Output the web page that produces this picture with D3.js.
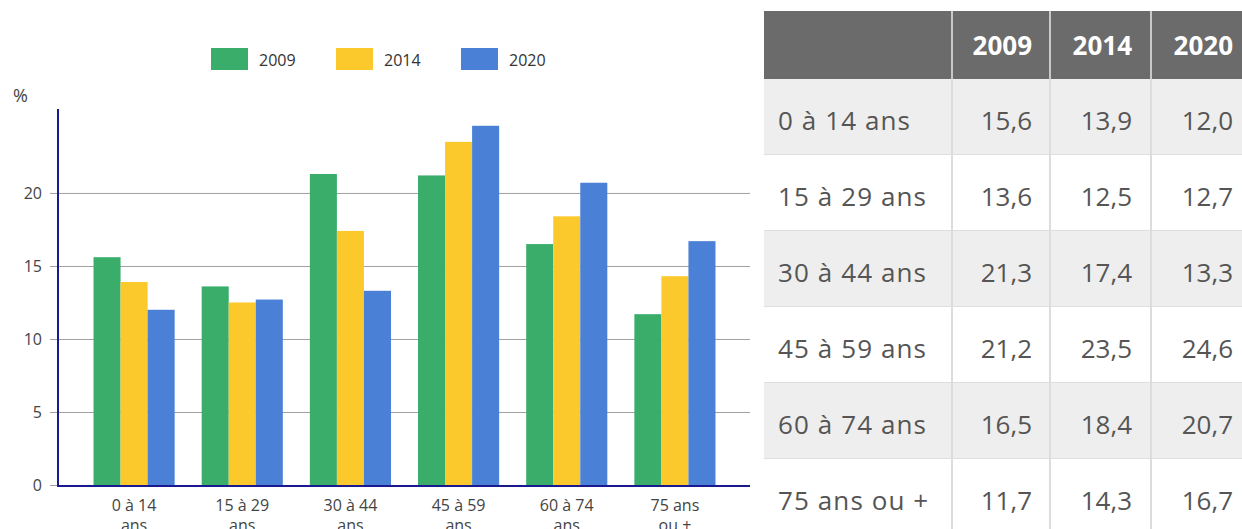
<!DOCTYPE html>
<html>
<head>
<meta charset="utf-8">
<script src="https://cdn.jsdelivr.net/npm/d3@7"></script>
<style>
html,body{margin:0;padding:0;background:#fff;}
svg{display:block;font-family:"Open Sans",sans-serif;}
</style>
</head>
<body>
<svg id="c" width="1242" height="529"></svg>
<script>
const categories = [["0 à 14","ans"],["15 à 29","ans"],["30 à 44","ans"],["45 à 59","ans"],["60 à 74","ans"],["75 ans","ou +"]];
const tableLabels = ["0 à 14 ans","15 à 29 ans","30 à 44 ans","45 à 59 ans","60 à 74 ans","75 ans ou +"];
const years = ["2009","2014","2020"];
const values2009 = [15.6,13.6,21.3,21.2,16.5,11.7];
const values2014 = [13.9,12.5,17.4,23.5,18.4,14.3];
const values2020 = [12.0,12.7,13.3,24.6,20.7,16.7];
const yTicks = [0,5,10,15,20];
const colors = ["#3aad6b","#fcc92c","#4a80d5"];

const series = [values2009, values2014, values2020];
const svg = d3.select("#c");

// ---- chart ----
const x = d3.scaleBand().domain(d3.range(categories.length)).range([80,729]).paddingInner(0.25).paddingOuter(0.125);
const xs = d3.scaleBand().domain(d3.range(series.length)).range([0, x.bandwidth()]);
const y = d3.scaleLinear().domain([0,25.75]).range([485,109]);

// gridlines
svg.append("g").selectAll("line").data(yTicks).join("line")
  .attr("x1",50).attr("x2",750)
  .attr("y1",d=>y(d)+0.5).attr("y2",d=>y(d)+0.5)
  .attr("stroke","#a0a0a0").attr("stroke-width",1);

// y labels
svg.append("g").selectAll("text").data(yTicks).join("text")
  .attr("x",42).attr("y",d=>y(d)).attr("dy","0.35em")
  .attr("text-anchor","end").attr("font-size",16).attr("fill","#444")
  .text(d=>d);

svg.append("text").attr("x",13).attr("y",102).attr("font-size",18).attr("fill","#444").text("%");

// bars
const gs = svg.append("g").selectAll("g").data(categories).join("g")
  .attr("transform",(d,i)=>`translate(${x(i)},0)`);
gs.selectAll("rect").data((d,i)=>series.map((s,k)=>({k,v:s[i]}))).join("rect")
  .attr("x",d=>xs(d.k)).attr("width",xs.bandwidth())
  .attr("y",d=>y(d.v)).attr("height",d=>y(0)-y(d.v))
  .attr("fill",d=>colors[d.k]);

// axes lines
svg.append("line").attr("x1",58).attr("x2",58).attr("y1",y.range()[1]).attr("y2",y(0)+1)
  .attr("stroke","#1a1a90").attr("stroke-width",2);
svg.append("line").attr("x1",57).attr("x2",750).attr("y1",y(0)+1).attr("y2",y(0)+1)
  .attr("stroke","#1a1a90").attr("stroke-width",2);

// x labels
const xl = svg.append("g").selectAll("text").data(categories).join("text")
  .attr("x",(d,i)=>x(i)+x.bandwidth()/2).attr("y",511)
  .attr("text-anchor","middle").attr("font-size",16).attr("fill","#444");
xl.selectAll("tspan").data(d=>d).join("tspan")
  .attr("x",function(){return this.parentNode.getAttribute("x");})
  .attr("dy",(d,i)=>i===0?0:20).text(d=>d);

// legend
const lg = svg.append("g").selectAll("g").data(years).join("g")
  .attr("transform",(d,i)=>`translate(${211+i*125},48)`);
lg.append("rect").attr("width",37).attr("height",22).attr("fill",(d,i)=>colors[i]);
lg.append("text").attr("x",48).attr("y",12).attr("dy","0.35em").attr("font-size",16).attr("fill","#333").text(d=>d);

// ---- table ----
const tX = 764, tTop = 11, headH = 68, rowH = 76;
const colEdges = [tX, 952, 1050, 1151, 1250];
const colRight = [1032, 1132, 1233];
const tg = svg.append("g");
tg.append("rect").attr("x",tX).attr("y",tTop).attr("width",1250-tX).attr("height",headH).attr("fill","#6b6b6b");
const rows = tableLabels.map((l,i)=>({l, v: series.map(s=>s[i])}));
const rowG = tg.selectAll("g.row").data(rows).join("g").attr("class","row")
  .attr("transform",(d,i)=>`translate(0,${tTop+headH+i*rowH})`);
rowG.append("rect").attr("x",tX).attr("width",1250-tX).attr("height",rowH)
  .attr("fill",(d,i)=>i%2===0?"#eeeeee":"#ffffff");
rowG.append("line").attr("x1",tX).attr("x2",1250).attr("y1",rowH-0.5).attr("y2",rowH-0.5).attr("stroke","#dedede");
rowG.append("text").attr("x",778).attr("y",rowH/2+4).attr("dy","0.35em").attr("font-size",26)
  .attr("letter-spacing","1.1px").attr("fill","#555").text(d=>d.l);
rowG.selectAll("text.v").data(d=>d.v).join("text").attr("class","v")
  .attr("x",(d,i)=>colRight[i]).attr("y",rowH/2+4).attr("dy","0.35em")
  .attr("text-anchor","end").attr("font-size",26).attr("fill","#555")
  .text(d=>d3.format(".1f")(d).replace(".",","));
// column separators
tg.selectAll("line.col").data(colEdges.slice(1,4)).join("line").attr("class","col")
  .attr("x1",d=>d).attr("x2",d=>d).attr("y1",tTop).attr("y2",529)
  .attr("stroke","#dcdcdc").attr("stroke-width",2);
tg.selectAll("line.colh").data(colEdges.slice(1,4)).join("line").attr("class","colh")
  .attr("x1",d=>d).attr("x2",d=>d).attr("y1",tTop).attr("y2",tTop+headH)
  .attr("stroke","#c8c8c8").attr("stroke-width",2);
tg.selectAll("text.h").data(years).join("text").attr("class","h")
  .attr("x",(d,i)=>colRight[i]).attr("y",tTop+headH/2+1).attr("dy","0.35em")
  .attr("text-anchor","end").attr("font-size",26).attr("font-weight","bold").attr("fill","#fff").text(d=>d);
</script>
</body>
</html>
